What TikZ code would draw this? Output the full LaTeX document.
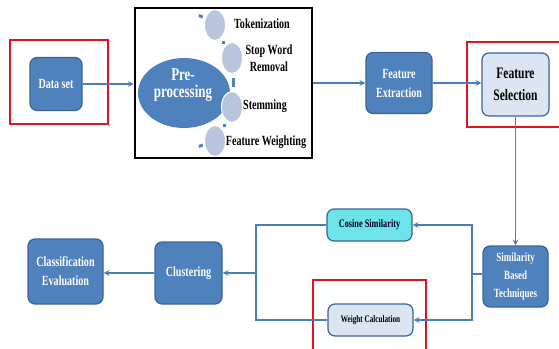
\documentclass[tikz,border=0pt]{standalone}
\usepackage{fontspec}
\newfontfamily\boxfont[FakeStretch=0.72]{Liberation Serif Bold}
\usepackage{tikz}
\usetikzlibrary{shapes.geometric}
\definecolor{boxblue}{HTML}{4F81BD}
\definecolor{boxedge}{HTML}{3A6497}
\definecolor{linkblue}{HTML}{4A7EBB}
\definecolor{palefill}{HTML}{DCE6F2}
\definecolor{cyanfill}{HTML}{6DE4EA}
\definecolor{dotgray}{HTML}{B8C5DC}
\definecolor{markred}{HTML}{E0141E}
\tikzset{stepbox/.style={draw=boxedge, fill=boxblue, line width=1.2pt, rounded corners=7pt, text=white, align=center, inner sep=0pt},
  lightbox/.style={stepbox, fill=palefill, text=black},
  redmark/.style={draw=markred, line width=1.8pt},
  link/.style={draw=linkblue, line width=1.6pt},
  arr/.style={link, ->, >=stealth},
  petal/.style={ellipse, fill=dotgray, draw=white, line width=1pt, minimum width=21pt, minimum height=31pt, inner sep=0pt},
  petaltext/.style={text=black, align=center, font=\boxfont\fontsize{14}{17}\selectfont},
  tick/.style={fill=boxblue}}

\begin{document}
\begin{tikzpicture}[x=1pt, y=-1pt]
      \useasboundingbox (0,0) rectangle (559,348);
      \draw [redmark] (10,40) rectangle (108,124);
      \draw [redmark] (467,42) rectangle (563,127);
      \draw [redmark] (313,280) rectangle (426,352);
      \node [stepbox, minimum width=52pt, minimum height=53pt, font=\boxfont\fontsize{14}{17}\selectfont] (dataset) at (56,84) {Data set};
      \node [draw=black, line width=2.6pt, minimum width=177pt, minimum height=150pt] (prebox) at (223.5,83) {};
      \node [ellipse, fill=boxblue, minimum width=92pt, minimum height=70pt] (preproc) at (184,93) {};
      \node [text=white, align=center, font=\boxfont\fontsize{18}{17}\selectfont] (pretext) at (183,85) {Pre-\\processing};
      \node [petal] (tok) at (215,25) {};
      \node [petal] (stop) at (232,58) {};
      \node [petal] (stem) at (232,107) {};
      \node [petal] (weigh) at (215,141) {};
      \fill [tick] (199,14) -- (203,15.5) -- (202.5,18.5) -- (198.5,17) -- cycle;
      \fill [tick] (222,41) rectangle (224.5,43.5);
      \fill [tick] (232,78) rectangle (235,87);
      \fill [tick] (223,124) rectangle (225.5,126.5);
      \fill [tick] (198.5,145) -- (202.5,143.5) -- (203,146.5) -- (199,148) -- cycle;
      \node [petaltext] (toklabel) at (262,24) {Tokenization};
      \node [petaltext] (stoplabel) at (269,58) {Stop Word\\Removal};
      \node [petaltext] (stemlabel) at (265,106) {Stemming};
      \node [petaltext] (weighlabel) at (266,142) {Feature Weighting};
      \node [stepbox, minimum width=66pt, minimum height=61pt, font=\boxfont\fontsize{14}{19}\selectfont] (featext) at (399,83) {Feature\\Extraction};
      \node [lightbox, minimum width=67pt, minimum height=63pt, font=\boxfont\fontsize{16}{22}\selectfont] (featsel) at (515.5,84.5) {Feature\\Selection};
      \node [stepbox, minimum width=65pt, minimum height=61pt, font=\boxfont\fontsize{12.5}{18}\selectfont] (simil) at (515.5,276.5) {Similarity\\Based\\Techniques};
      \node [stepbox, fill=cyanfill, text=black!85!blue, minimum width=85pt, minimum height=32pt, font=\boxfont\fontsize{11.5}{14}\selectfont] (cosine) at (369.5,225) {Cosine Similarity};
      \node [lightbox, minimum width=85pt, minimum height=32pt, font=\boxfont\fontsize{10}{12}\selectfont] (weight) at (370.5,320) {Weight Calculation};
      \node [stepbox, minimum width=67pt, minimum height=62pt, font=\boxfont\fontsize{14}{19}\selectfont] (clust) at (188.5,273) {Clustering};
      \node [stepbox, minimum width=75pt, minimum height=65pt, font=\boxfont\fontsize{14}{19}\selectfont] (classif) at (65.5,271.5) {Classification\\Evaluation};
      \coordinate (split) at (472,274);
      \coordinate (merge) at (256,273);
      \draw [arr] (dataset) -- (dataset -| prebox.west);
      \draw [arr] (prebox.east |- featext) -- (featext);
      \draw [arr] (featext) -- (featsel.west |- featext);
      \draw [arr] (featsel) -- (simil);
      \draw [link] (simil.west |- split) -- (split);
      \draw [arr] (split) |- (cosine.east);
      \draw [arr] (split) |- (weight.east);
      \draw [link] (cosine.west) -| (merge);
      \draw [link] (weight.west) -| (merge);
      \draw [arr] (merge) -- (clust.east |- merge);
      \draw [arr] (clust) -- (classif.east |- clust);
    \end{tikzpicture}
\end{document}
